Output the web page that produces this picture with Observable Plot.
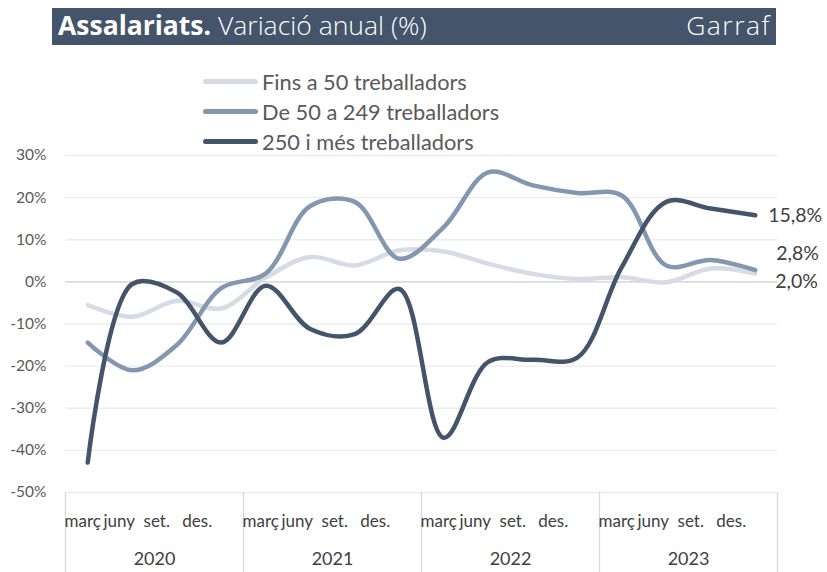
<!DOCTYPE html>
<html><head><meta charset="utf-8">
<script src="https://cdn.jsdelivr.net/npm/d3@7"></script>
<script src="https://cdn.jsdelivr.net/npm/@observablehq/plot@0.6"></script>
<style>
html,body{margin:0;padding:0;background:#fff;}
body{width:827px;height:572px;overflow:hidden;font-family:Lato,"Open Sans",sans-serif;}
#title{margin:8px 0 0 52px;width:724px;height:37px;background:#44546A;color:#fff;position:relative;font-family:"Open Sans",Lato,sans-serif;}
#title .l{position:absolute;left:6px;top:1px;font-size:26.5px;line-height:33px;white-space:nowrap;}
#title .l b{font-weight:700;}
#title .l span{font-weight:300;}
#title .r{position:absolute;right:5px;top:1px;font-size:26.5px;line-height:33px;font-weight:300;letter-spacing:1.5px;}
#legend{height:95px;margin-top:5px;padding-top:16px;box-sizing:border-box;padding-left:203px;}
#legend .item{height:30px;display:flex;align-items:center;font-size:21.8px;color:#595959;}
#legend .sw{width:55px;height:5px;border-radius:3px;margin-right:4px;}
#chart svg{display:block;}
</style></head>
<body>
<div id="title"><div class="l"><b>Assalariats.</b> <span>Variació anual (%)</span></div><div class="r">Garraf</div></div>
<div id="legend"></div>
<div id="chart"></div>
<script>
const quarters = ["març","juny","set.","des."];
const years = ["2020","2021","2022","2023"];
const seriesNames = ["Fins a 50 treballadors","De 50 a 249 treballadors","250 i més treballadors"];
const fins50   = [-5.5,-8.3,-4.5,-6.3,  1.0, 5.9, 3.9, 7.5,   7.2, 4.3, 1.9, 0.7,   1.1,-0.1, 3.2, 2.0];
const de50a249 = [-14.4,-21.0,-15.0,-1.5, 2.0,18.0,19.0, 5.5, 13.0,26.0,22.9,21.1, 20.5, 3.9, 5.2, 2.8];
const mes250   = [-42.9,-0.5,-2.5,-14.4, -0.9,-11.2,-12.4,-1.7, -37.0,-19.0,-18.5,-18.0, 3.5,19.0,17.4,15.8];
const endLabels = ["2,0%","2,8%","15,8%"];
const yTicks = [-50,-40,-30,-20,-10,0,10,20,30];

const seriesColors = ["#D6DCE5","#8497B0","#44546A"];
const seriesValues = [fins50, de50a249, mes250];

// legend
const lg = document.getElementById("legend");
seriesNames.forEach((n,k)=>{
  const it = document.createElement("div"); it.className="item";
  it.innerHTML = `<div class="sw" style="background:${seriesColors[k]}"></div><div>${n}</div>`;
  lg.appendChild(it);
});

const rows = [];
seriesValues.forEach((vals,k)=>vals.forEach((v,i)=>rows.push({serie:seriesNames[k], i, value:v})));
const nQ = years.length*quarters.length;
const lastRows = seriesValues.map((vals,k)=>({serie:seriesNames[k], i:nQ-1, value:vals[nQ-1], label:endLabels[k]}));
const boundaries = d3.range(years.length+1).map(j=>j*quarters.length-0.5);
const qOffsets = [-5,-13,-20,-24];
const endDx = [20,21,13], endDy = [8,-16,0];

const plot = Plot.plot({
  width: 827, height: 427,
  marginLeft: 65, marginRight: 50, marginTop: 10, marginBottom: 80,
  style: {fontFamily: "Lato, sans-serif", fontSize: "15.5px", color: "#595959", background: "#fff"},
  x: {type: "linear", domain: [-0.5, nQ-0.5], axis: null},
  y: {domain: [-50, 30], ticks: yTicks, tickFormat: d => d + "%", tickSize: 0, tickPadding: 19, label: null},
  color: {domain: seriesNames, range: seriesColors},
  marks: [
    Plot.ruleY(yTicks, {stroke: "#ececec", strokeWidth: 1.3}),
    Plot.ruleY([0], {stroke: "#d4d4d4", strokeWidth: 1.3}),
    Plot.ruleX(boundaries, {y1: -50, y2: -69, stroke: "#d9d9d9", strokeWidth: 1.3}),
    ...quarters.map((q,k)=>Plot.text(years, {x: (d,j)=>j*quarters.length+k, y: -50, text: ()=>q, dy: 29, dx: qOffsets[k], fontSize: 17, fill: "#404040"})),
    Plot.text(years, {x: (d,j)=>j*quarters.length+(quarters.length-1)/2, y: -50, text: d=>d, dy: 67, fontSize: 18, fill: "#404040"}),
    Plot.line(rows, {x: "i", y: "value", z: "serie", stroke: "serie", strokeWidth: 4.5, curve: "catmull-rom", strokeLinecap: "round"}),
    ...lastRows.map((r,k)=>Plot.text([r], {x: "i", y: "value", text: "label", dx: endDx[k], dy: endDy[k], textAnchor: "start", fontSize: 19.5, fill: "#404040"}))
  ]
});
document.getElementById("chart").appendChild(plot);
</script>
</body></html>
